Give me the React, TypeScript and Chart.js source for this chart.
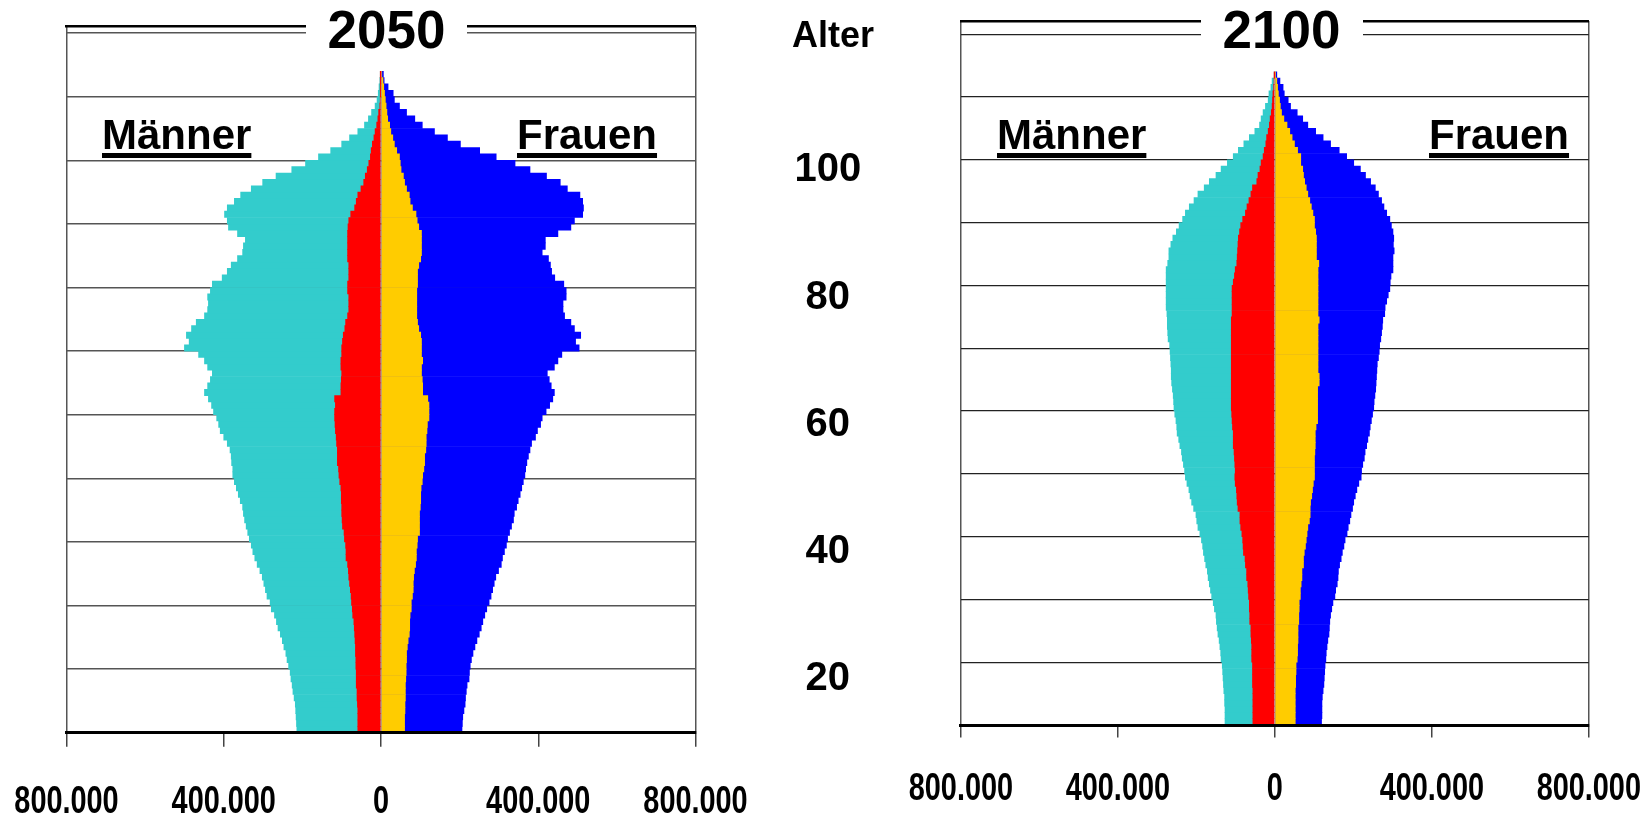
import React, { useEffect, useRef } from "react";
import { Chart, registerables } from "chart.js";

Chart.register(...registerables);

const FONT = "'Liberation Sans', Arial, Helvetica, sans-serif";

// Age (years) of each one-year bar
const AGES = [
  10, 11, 12, 13, 14, 15, 16, 17, 18, 19,
  20, 21, 22, 23, 24, 25, 26, 27, 28, 29,
  30, 31, 32, 33, 34, 35, 36, 37, 38, 39,
  40, 41, 42, 43, 44, 45, 46, 47, 48, 49,
  50, 51, 52, 53, 54, 55, 56, 57, 58, 59,
  60, 61, 62, 63, 64, 65, 66, 67, 68, 69,
  70, 71, 72, 73, 74, 75, 76, 77, 78, 79,
  80, 81, 82, 83, 84, 85, 86, 87, 88, 89,
  90, 91, 92, 93, 94, 95, 96, 97, 98, 99,
  100, 101, 102, 103, 104, 105, 106, 107, 108, 109,
  110, 111, 112, 113,
];

const X_TICKS = [-800, -400, 0, 400, 800]; // thousands
const AGE_GRID = [10, 20, 30, 40, 50, 60, 70, 80, 90, 100, 110, 120];
const AGE_LABELS = [20, 40, 60, 80, 100];

// ---- 2050 (thousands of persons) ----
const MEN_2050 = [
  214, 215, 216, 217, 218, 221, 224, 226, 229, 231,
  235, 239, 242, 247, 251, 256, 262, 266, 271, 279,
  282, 290, 294, 298, 302, 308, 315, 321, 326, 330,
  335, 339, 343, 347, 350, 352, 358, 363, 368, 373,
  377, 377, 380, 381, 384, 391, 400, 409, 413, 418,
  426, 431, 439, 449, 441, 434, 429, 441, 449, 464,
  500, 488, 495, 482, 470, 449, 441, 439, 441, 434,
  429, 404, 391, 381, 365, 352, 350, 345, 365, 388,
  391, 398, 391, 373, 357, 330, 301, 267, 227, 192,
  159, 128, 100, 80, 59, 42, 32, 24, 15, 10,
  7, 5, 3, 1,
];
const MEN_INNER_2050 = [
  59, 59, 59, 59, 60, 61, 61, 63, 63, 63,
  64, 64, 65, 65, 66, 67, 68, 69, 72, 73,
  75, 76, 78, 80, 82, 83, 85, 89, 89, 90,
  93, 94, 98, 99, 100, 100, 101, 101, 102, 105,
  107, 108, 111, 111, 111, 113, 114, 116, 117, 118,
  118, 116, 118, 102, 102, 101, 100, 102, 102, 100,
  100, 98, 96, 92, 90, 85, 82, 82, 82, 85,
  85, 82, 82, 82, 85, 85, 85, 85, 85, 84,
  82, 77, 67, 63, 59, 51, 44, 40, 35, 31,
  27, 25, 22, 18, 15, 11, 8, 6, 3, 2,
  1, 1, 0.5, 0.3,
];
const WOMEN_INNER_2050 = [
  60, 60, 60, 61, 61, 62, 62, 62, 63, 64,
  64, 65, 65, 67, 69, 72, 73, 73, 74, 77,
  77, 80, 82, 82, 83, 85, 88, 90, 90, 92,
  93, 98, 98, 98, 98, 100, 101, 101, 102, 105,
  106, 109, 111, 111, 114, 115, 115, 117, 118, 122,
  122, 122, 119, 106, 106, 105, 103, 103, 106, 103,
  103, 103, 101, 96, 93, 91, 91, 91, 91, 91,
  93, 93, 93, 96, 101, 103, 103, 103, 103, 96,
  92, 89, 80, 74, 72, 65, 60, 57, 51, 49,
  47, 40, 34, 30, 25, 22, 17, 15, 13, 11,
  9, 7, 5, 2,
];
const WOMEN_2050 = [
  206, 207, 208, 211, 214, 215, 217, 219, 224, 225,
  227, 230, 234, 239, 244, 250, 255, 259, 264, 269,
  275, 280, 284, 288, 292, 299, 306, 309, 314, 319,
  322, 327, 332, 337, 339, 345, 349, 354, 358, 362,
  366, 368, 371, 375, 379, 383, 393, 398, 406, 410,
  420, 429, 437, 441, 433, 428, 423, 441, 450, 460,
  504, 495, 508, 492, 483, 467, 463, 463, 471, 471,
  465, 442, 434, 431, 426, 410, 418, 418, 450, 483,
  492, 513, 515, 513, 506, 474, 456, 421, 379, 341,
  293, 251, 202, 169, 136, 105, 86, 65, 47, 34,
  31, 18, 8, 6,
];

// ---- 2100 (thousands of persons) ----
const MEN_2100 = [
  127, 127, 127, 128, 128, 130, 131, 132, 133, 134,
  137, 138, 140, 142, 145, 147, 149, 150, 154, 157,
  161, 164, 167, 170, 172, 176, 179, 182, 184, 187,
  191, 196, 199, 201, 207, 212, 216, 219, 224, 228,
  230, 233, 236, 238, 242, 245, 249, 250, 252, 255,
  257, 258, 259, 261, 263, 264, 264, 265, 266, 267,
  268, 272, 273, 274, 274, 275, 277, 277, 277, 277,
  277, 277, 277, 273, 270, 270, 265, 260, 251, 244,
  235, 228, 218, 206, 196, 180, 167, 150, 137, 121,
  106, 93, 79, 65, 51, 39, 35, 30, 24, 17,
  15, 10, 7, 1,
];
const MEN_INNER_2100 = [
  56, 56, 56, 56, 56, 56, 57, 57, 57, 57,
  59, 59, 59, 60, 61, 61, 64, 64, 65, 65,
  67, 68, 69, 72, 72, 75, 76, 80, 81, 82,
  84, 87, 89, 89, 94, 96, 97, 98, 101, 102,
  101, 102, 103, 104, 106, 106, 106, 108, 109, 110,
  111, 111, 111, 111, 111, 111, 111, 111, 111, 111,
  111, 111, 111, 111, 111, 109, 109, 109, 109, 109,
  106, 103, 101, 97, 96, 95, 94, 93, 90, 87,
  82, 75, 71, 66, 61, 57, 46, 43, 38, 35,
  30, 27, 23, 21, 17, 14, 12, 9, 7, 6,
  5, 3, 2, 0.5,
];
const WOMEN_INNER_2100 = [
  52, 52, 52, 52, 52, 52, 53, 53, 54, 54,
  57, 58, 58, 59, 59, 59, 61, 61, 62, 62,
  65, 65, 67, 69, 69, 73, 73, 75, 78, 80,
  82, 84, 88, 90, 90, 91, 94, 96, 98, 101,
  101, 101, 101, 102, 103, 103, 103, 105, 109, 109,
  109, 109, 109, 109, 113, 113, 110, 110, 110, 110,
  110, 110, 110, 110, 113, 110, 110, 110, 110, 110,
  110, 110, 110, 112, 106, 106, 106, 106, 104, 101,
  101, 97, 93, 89, 84, 80, 76, 73, 71, 66,
  66, 58, 50, 44, 38, 31, 23, 17, 14, 12,
  9, 7, 5, 2,
];
const WOMEN_2100 = [
  119, 120, 120, 120, 121, 123, 125, 126, 127, 128,
  130, 131, 133, 135, 138, 139, 140, 142, 145, 148,
  153, 155, 159, 161, 162, 165, 169, 172, 176, 179,
  184, 187, 191, 194, 198, 201, 205, 209, 214, 220,
  221, 224, 228, 230, 234, 237, 241, 243, 246, 249,
  252, 253, 255, 257, 258, 259, 260, 261, 264, 266,
  267, 270, 272, 274, 275, 280, 281, 285, 289, 293,
  294, 296, 301, 301, 301, 304, 302, 303, 301, 297,
  293, 285, 278, 272, 264, 256, 244, 231, 218, 201,
  183, 164, 142, 123, 104, 84, 71, 57, 40, 34,
  24, 21, 13, 5,
];

const COLORS = {
  men: "#33CCCC",
  menInner: "#FF0000",
  womenInner: "#FFCC00",
  women: "#0000FF",
};

function fmtTick(v: number) {
  const a = Math.abs(v);
  return a === 0 ? "0" : a + ".000";
}

// Remove Chart.js' automatic label overflow padding so the plot area sits exactly.
function zeroPad(s: any) {
  s.paddingTop = 0;
  s.paddingBottom = 0;
  s.paddingLeft = 0;
  s.paddingRight = 0;
}

// Draw the axis' own tick labels horizontally condensed (narrow bold face).
function condenseLabels(scale: any, sx: number) {
  if (scale.__condensed) return;
  scale.__condensed = true;
  scale.drawLabels = function (chartArea: any) {
    if (!this.options.ticks.display) return;
    const ctx = this.ctx;
    const items = this.getLabelItems(chartArea);
    for (const item of items) {
      const o = item.options;
      ctx.save();
      ctx.translate(o.translation[0], o.translation[1]);
      ctx.scale(sx, 1);
      ctx.font = item.font.string;
      ctx.fillStyle = o.color;
      ctx.textAlign = o.textAlign;
      ctx.textBaseline = o.textBaseline;
      ctx.fillText(String(item.label), 0, item.textOffset);
      ctx.restore();
    }
  };
}

type Opts = {
  men: number[];
  menInner: number[];
  women: number[];
  womenInner: number[];
  yMax: number;
  padLeft: number;
  padTop: number;
  padRight: number;
  xAxisHeight: number;
  tickLength: number;
  tickPadding: number;
  gridColor: string;
  gridWidth: number;
  ageAxis?: { width: number; padding: number; offset: number };
};

function buildConfig(o: Opts): any {
  const ds = (vals: number[], sign: number, color: string, order: number, label: string) => ({
    label,
    data: AGES.map((a, i) => ({ x: sign * vals[i], y: a + 0.5 })),
    backgroundColor: color,
    borderWidth: 0,
    grouped: false,
    order,
    barPercentage: 1,
    categoryPercentage: 1,
    xAxisID: "x",
    yAxisID: "y",
  });

  const scales: any = {
    x: {
      type: "linear",
      position: "bottom",
      min: -800,
      max: 800,
      offset: false,
      afterBuildTicks: (s: any) => {
        s.ticks = X_TICKS.map((v) => ({ value: v }));
      },
      afterFit: (s: any) => {
        s.height = o.xAxisHeight;
        zeroPad(s);
        condenseLabels(s, 0.74);
      },
      grid: {
        offset: false,
        drawOnChartArea: true,
        color: (c: any) =>
          c.tick && Math.abs(c.tick.value) === 800 ? "#555555" : "rgba(0,0,0,0)",
        tickColor: "#444444",
        lineWidth: 1.5,
        tickLength: o.tickLength,
        drawTicks: true,
      },
      border: { display: true, color: "#000000", width: 3, z: 1 },
      ticks: {
        autoSkip: false,
        maxRotation: 0,
        minRotation: 0,
        padding: o.tickPadding,
        color: "#000000",
        font: { family: FONT, size: 39, weight: "bold", lineHeight: 1.2 },
        callback: (v: any) => fmtTick(Number(v)),
      },
    },
    xTop: {
      type: "linear",
      position: "top",
      min: -800,
      max: 800,
      offset: false,
      afterFit: (s: any) => {
        s.height = 0;
        zeroPad(s);
      },
      grid: { display: false, drawTicks: false, offset: false },
      ticks: { display: false },
      border: { display: true, color: "#000000", width: 2.5, z: 1 },
    },
    y: {
      type: "linear",
      position: "left",
      min: 10,
      max: o.yMax,
      offset: false,
      afterBuildTicks: (s: any) => {
        s.ticks = AGE_GRID.map((v) => ({ value: v }));
      },
      afterFit: (s: any) => {
        s.width = 0;
        zeroPad(s);
      },
      grid: { color: o.gridColor, lineWidth: o.gridWidth, drawTicks: false, offset: false },
      border: { display: false },
      ticks: { display: false },
    },
  };

  if (o.ageAxis) {
    const aa = o.ageAxis;
    scales.yAge = {
      type: "linear",
      position: "right",
      min: 10,
      max: o.yMax,
      offset: false,
      afterBuildTicks: (s: any) => {
        s.ticks = AGE_LABELS.map((v) => ({ value: v }));
      },
      afterFit: (s: any) => {
        s.width = aa.width;
        zeroPad(s);
      },
      grid: { display: false, drawTicks: false, offset: false },
      border: { display: false },
      ticks: {
        crossAlign: "center",
        padding: aa.padding,
        labelOffset: aa.offset,
        color: "#000000",
        font: { family: FONT, size: 40, weight: "bold", lineHeight: 1.2 },
      },
    };
  }

  return {
    type: "bar",
    data: {
      datasets: [
        ds(o.menInner, -1, COLORS.menInner, 1, "Männer (innen)"),
        ds(o.womenInner, 1, COLORS.womenInner, 1, "Frauen (innen)"),
        ds(o.men, -1, COLORS.men, 2, "Männer"),
        ds(o.women, 1, COLORS.women, 2, "Frauen"),
      ],
    },
    options: {
      indexAxis: "y",
      animation: false,
      responsive: false,
      maintainAspectRatio: false,
      devicePixelRatio: 1,
      layout: {
        padding: { left: o.padLeft, top: o.padTop, right: o.padRight, bottom: 0 },
      },
      plugins: {
        legend: { display: false },
        tooltip: { enabled: false },
        title: { display: false },
      },
      scales,
    },
  };
}

function PyramidCanvas(props: { left: number; width: number; height: number; opts: Opts }) {
  const ref = useRef<HTMLCanvasElement>(null);
  useEffect(() => {
    const chart = new Chart(ref.current as HTMLCanvasElement, buildConfig(props.opts));
    return () => chart.destroy();
  }, []);
  return (
    <canvas
      ref={ref}
      width={props.width}
      height={props.height}
      style={{
        position: "absolute",
        left: props.left,
        top: 0,
        width: props.width,
        height: props.height,
      }}
    />
  );
}

const txt: React.CSSProperties = {
  position: "absolute",
  fontFamily: FONT,
  fontWeight: "bold",
  color: "#000",
  whiteSpace: "nowrap",
  margin: 0,
  padding: 0,
};

const title = (left: number, width: number): React.CSSProperties => ({
  ...txt,
  left,
  width,
  top: 3.1,
  height: 53,
  fontSize: 53,
  lineHeight: "53px",
  textAlign: "center",
  background: "#ffffff",
});

const sexLabel = (left: number): React.CSSProperties => ({
  ...txt,
  left,
  top: 114.4,
  fontSize: 42,
  lineHeight: "42px",
  textDecoration: "underline",
  textDecorationThickness: "4.7px",
  textUnderlineOffset: "4px",
});

export default function App() {
  const left: Opts = {
    men: MEN_2050,
    menInner: MEN_INNER_2050,
    women: WOMEN_2050,
    womenInner: WOMEN_INNER_2050,
    yMax: 121,
    padLeft: 66.5,
    padTop: 26.7,
    padRight: 0,
    xAxisHeight: 86.3,
    tickLength: 14,
    tickPadding: 32,
    gridColor: "#555555",
    gridWidth: 1.4,
    ageAxis: { width: 184.5, padding: 99, offset: 10 },
  };
  const right: Opts = {
    men: MEN_2100,
    menInner: MEN_INNER_2100,
    women: WOMEN_2100,
    womenInner: WOMEN_INNER_2100,
    yMax: 122.1,
    padLeft: 80.9,
    padTop: 21,
    padRight: 63.2,
    xAxisHeight: 94,
    tickLength: 12.6,
    tickPadding: 28,
    gridColor: "#222222",
    gridWidth: 1.3,
  };

  return (
    <div
      style={{
        position: "absolute",
        left: 0,
        top: 0,
        width: 1652,
        height: 819,
        background: "#ffffff",
        overflow: "hidden",
      }}
    >
      <PyramidCanvas left={0} width={880} height={819} opts={left} />
      <PyramidCanvas left={880} width={772} height={819} opts={right} />

      <div style={title(306, 161)}>2050</div>
      <div style={title(1200.5, 162)}>2100</div>

      <div style={sexLabel(102)}>Männer</div>
      <div style={sexLabel(517)}>Frauen</div>
      <div style={sexLabel(997)}>Männer</div>
      <div style={sexLabel(1429)}>Frauen</div>

      <div style={{ ...txt, left: 792, top: 17.3, fontSize: 36, lineHeight: "36px" }}>Alter</div>
    </div>
  );
}
